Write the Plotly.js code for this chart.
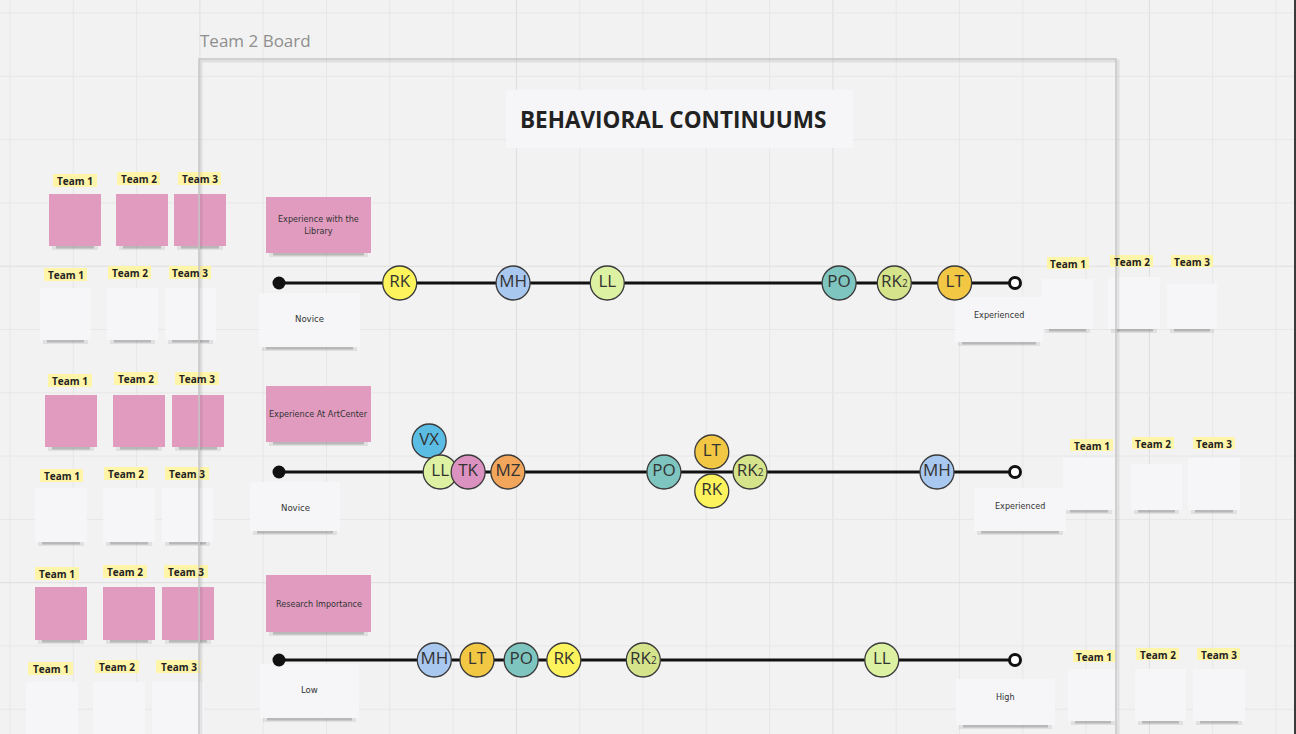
<!DOCTYPE html>
<html><head><meta charset="utf-8">
<script src="https://cdn.plot.ly/plotly-3.0.1.min.js"></script>
<style>html,body{margin:0;padding:0;background:#f2f2f2;overflow:hidden}#chart{width:1296px;height:734px}</style>
</head><body><div id="chart"></div>
<script>
// ---------------- DATA ----------------
const boardTitle = 'Team 2 Board';
const chartTitle = 'BEHAVIORAL CONTINUUMS';
const continuumTitles = ['Experience with the<br>Library', 'Experience At ArtCenter', 'Research Importance'];
const lowLabels = ['Novice', 'Novice', 'Low'];
const highLabels = ['Experienced', 'Experienced', 'High'];
const teamNames = ['Team 1', 'Team 2', 'Team 3'];

// Row 1: Experience with the Library (0 = Novice, 100 = Experienced)
const libraryPeople = ['RK', 'MH', 'LL', 'PO', 'RK2', 'LT'];
const libraryScores = [16.4, 31.8, 44.6, 76.1, 83.6, 91.8];
const libraryLane   = [0, 0, 0, 0, 0, 0];

// Row 2: Experience At ArtCenter
const artCenterPeople = ['VX', 'LL', 'TK', 'MZ', 'PO', 'LT', 'RK', 'RK2', 'MH'];
const artCenterScores = [20.4, 21.9, 25.7, 31.1, 52.3, 58.8, 58.8, 64.0, 89.4];
const artCenterLane   = [31, 0, 0, 0, 0, 20, -19, 0, 0];

// Row 3: Research Importance (0 = Low, 100 = High)
const researchPeople = ['MH', 'LT', 'PO', 'RK', 'RK2', 'LL'];
const researchScores = [21.1, 26.9, 32.9, 38.7, 49.5, 81.9];
const researchLane   = [0, 0, 0, 0, 0, 0];

// ---------------- STYLE / LAYOUT GEOMETRY ----------------
const W = 1296, H = 734;
const personColor = {RK:'#fdf35c', MH:'#a9c8ef', LL:'#dcf2a2', PO:'#7dc5be', RK2:'#d5e38a',
                     LT:'#f2c744', VX:'#5bbce4', TK:'#dc92c0', MZ:'#f2a65c'};
const personText = p => p === 'RK2' ? 'RK<span style="font-size:10px">2</span>' : p;
const lineLeft = 279, lineRight = 1015;
const rowCenters = [283, 472, 660];
const PINK = '#e09bbf', WHITE = '#f6f6f8', TAG = '#fff5a8';
const HAND = '"DejaVu Sans Condensed", "Liberation Sans Narrow", "Arial Narrow", sans-serif';

const shapes = [];
const annotations = [];

// grid (whiteboard background)
const g = 63.3;
for (let k = 0; k < 22; k++) {
  const x = 10 + g * k;
  shapes.push({type:'line', xref:'x', yref:'y', layer:'below', x0:x, x1:x, y0:0, y1:H,
    line:{color: (k % 5 === 3) ? '#dedede' : '#e7e7e7', width:1}});
}
for (let k = 0; k < 12; k++) {
  const y = 13 + g * k;
  shapes.push({type:'line', xref:'x', yref:'y', layer:'below', x0:0, x1:W, y0:y, y1:y,
    line:{color: (k % 5 === 4) ? '#dedede' : '#e7e7e7', width:1}});
}

function note(x0, y0, x1, y1, color) {
  shapes.push({type:'rect', xref:'x', yref:'y', layer:'below', x0:x0 + 3, x1:x1 - 3, y0:y1 - 2, y1:y1 + 4,
    fillcolor:'rgba(0,0,0,0.07)', line:{width:0}});
  shapes.push({type:'rect', xref:'x', yref:'y', layer:'below', x0:x0 + 7, x1:x1 - 7, y0:y1 - 2, y1:y1 + 2.5,
    fillcolor:'rgba(40,40,40,0.22)', line:{width:0}});
  shapes.push({type:'rect', xref:'x', yref:'y', layer:'below', x0:x0, x1:x1, y0:y0, y1:y1,
    fillcolor:color, line:{width:0}});
}
function tag(x0, y0, x1, y1, text) {
  shapes.push({type:'rect', xref:'x', yref:'y', layer:'below', x0:x0, x1:x1, y0:y0, y1:y1,
    fillcolor:TAG, line:{width:0}});
  annotations.push({xref:'x', yref:'y', x:(x0 + x1) / 2, y:(y0 + y1) / 2 + 0.5, text:'<b>' + text + '</b>',
    showarrow:false, font:{family:'"Open Sans", sans-serif', size:10, color:'#222'}});
}
function label(x, y, text, size) {
  annotations.push({xref:'x', yref:'y', x:x, y:y, text:text, showarrow:false,
    font:{family:HAND, size:size || 10, color:'#333'}});
}

// Left team blocks: [tagRow1, pinkNotes, tagRow2, whiteNotes]
const leftBlocks = [
  {tagsA:[[53,174,97,187],[117,172,160,185],[178,172,221,185]],
   pinks:[[49,194,101,246],[116,194,168,246],[174,194,226,246]],
   tagsB:[[44,268,87,281],[108,266,151,279],[169,266,211,279]],
   whites:[[40,288,91,340],[107,288,158,340],[165,288,216,340]]},
  {tagsA:[[48,374,92,387],[114,372,158,385],[175,372,219,385]],
   pinks:[[45,395,97,447],[113,395,165,447],[172,395,224,447]],
   tagsB:[[40,469,83,482],[104,467,148,480],[165,467,209,480]],
   whites:[[35,488,87,542],[103,488,155,542],[162,488,213,542]]},
  {tagsA:[[35,567,79,580],[103,565,147,578],[164,565,208,578]],
   pinks:[[35,587,87,640],[103,587,155,640],[162,587,214,640]],
   tagsB:[[28,662,73,675],[95,660,139,673],[156,660,201,673]],
   whites:[[26,682,78,745],[93,682,145,745],[152,682,204,745]]}
];
const rightBlocks = [
  {tags:[[1047,257,1089,269],[1110,255,1153,267],[1171,255,1213,267]],
   whites:[[1042,279,1093,329],[1108,277,1160,329],[1167,284,1217,329]]},
  {tags:[[1070,439,1113,451],[1132,437,1174,449],[1193,437,1235,449]],
   whites:[[1063,458,1115,510],[1131,464,1182,510],[1188,458,1240,510]]},
  {tags:[[1073,650,1115,662],[1136,648,1179,660],[1197,648,1240,660]],
   whites:[[1068,669,1118,721],[1135,669,1186,721],[1193,669,1245,721]]}
];
const categoryNotes = [[266,197,371,253],[266,386,371,442],[266,575,371,632]];
const lowNotes  = [[259,293,360,347],[250,482,340,531],[260,664,359,718]];
const highNotes = [[955,297,1043,342],[974,488,1066,531],[956,679,1055,725]];

leftBlocks.forEach(b => {
  b.pinks.forEach(r => note(...r, PINK));
  b.whites.forEach(r => note(...r, WHITE));
  b.tagsA.forEach((r, i) => tag(...r, teamNames[i]));
  b.tagsB.forEach((r, i) => tag(...r, teamNames[i]));
});
rightBlocks.forEach(b => {
  b.whites.forEach(r => note(...r, WHITE));
  b.tags.forEach((r, i) => tag(...r, teamNames[i]));
});
categoryNotes.forEach((r, i) => {
  note(...r, PINK);
  label((r[0] + r[2]) / 2, (r[1] + r[3]) / 2, continuumTitles[i], 9);
});
lowNotes.forEach((r, i) => {
  note(...r, WHITE);
  label((r[0] + r[2]) / 2, r[1] + 25, lowLabels[i], 9.5);
});
highNotes.forEach((r, i) => {
  note(...r, WHITE);
  label((r[0] + r[2]) / 2, r[1] + 18, highLabels[i], 9);
});

// board frame
shapes.push({type:'rect', xref:'x', yref:'y', layer:'below', x0:201, x1:1118, y0:61, y1:800,
  fillcolor:'rgba(0,0,0,0)', line:{color:'rgba(0,0,0,0.07)', width:3}});
shapes.push({type:'rect', xref:'x', yref:'y', layer:'below', x0:199, x1:1116, y0:59, y1:800,
  fillcolor:'rgba(0,0,0,0)', line:{color:'#c6c6c6', width:1.5}});
// title box
shapes.push({type:'rect', xref:'x', yref:'y', layer:'below', x0:506, x1:853, y0:90, y1:148,
  fillcolor:'#f6f6f8', line:{width:0}});
// window edge
shapes.push({type:'line', xref:'x', yref:'y', layer:'below', x0:1295, x1:1295, y0:0, y1:H,
  line:{color:'#3a3a3a', width:2}});

annotations.push({xref:'x', yref:'y', x:673, y:119, text:'<b>' + chartTitle + '</b>', showarrow:false,
  font:{family:'"Open Sans", sans-serif', size:22.5, color:'#222'}});
annotations.push({xref:'x', yref:'y', x:198, y:40, xanchor:'left', text:boardTitle, showarrow:false,
  font:{family:'"Open Sans", sans-serif', size:17, color:'#8e8e8e'}});

// ---------------- TRACES ----------------
const rows = [
  {people:libraryPeople, scores:libraryScores, lane:libraryLane},
  {people:artCenterPeople, scores:artCenterScores, lane:artCenterLane},
  {people:researchPeople, scores:researchScores, lane:researchLane}
];
const traces = [];
const layout = {
  width:W, height:H, margin:{l:0, r:0, t:0, b:0, pad:0},
  paper_bgcolor:'#f2f2f2', plot_bgcolor:'rgba(0,0,0,0)', showlegend:false,
  xaxis:{domain:[0, 1], range:[0, W], visible:false, fixedrange:true},
  yaxis:{domain:[0, 1], range:[H, 0], visible:false, fixedrange:true},
  shapes:shapes, annotations:annotations
};
traces.push({x:[0], y:[0], xaxis:'x', yaxis:'y', mode:'markers', marker:{size:1, opacity:0}, hoverinfo:'skip'});

rows.forEach((row, r) => {
  const n = r + 2, xa = 'x' + n, ya = 'y' + n;
  const c = rowCenters[r];
  layout['xaxis' + n] = {domain:[lineLeft / W, lineRight / W], range:[0, 100], visible:false, anchor:ya, fixedrange:true};
  layout['yaxis' + n] = {domain:[1 - (c + 60) / H, 1 - (c - 60) / H], range:[-60, 60], visible:false, anchor:xa, fixedrange:true};
  traces.push({x:[0, 100], y:[0, 0], xaxis:xa, yaxis:ya, mode:'lines', line:{color:'#111', width:3}, cliponaxis:false, hoverinfo:'skip'});
  traces.push({x:[0], y:[0], xaxis:xa, yaxis:ya, mode:'markers', marker:{size:13, color:'#111'}, cliponaxis:false, hoverinfo:'skip'});
  traces.push({x:[100], y:[0], xaxis:xa, yaxis:ya, mode:'markers', marker:{size:11, color:'#fff', line:{color:'#111', width:3}}, cliponaxis:false, hoverinfo:'skip'});
  traces.push({x:row.scores, y:row.lane, xaxis:xa, yaxis:ya, mode:'markers+text', cliponaxis:false,
    text:row.people.map(personText), textposition:'middle center',
    textfont:{family:'"Open Sans", sans-serif', size:17, color:'#333'},
    marker:{size:34, color:row.people.map(p => personColor[p]), line:{color:'#3a3a3a', width:1.3}, opacity:1},
    hoverinfo:'skip'});
});

Plotly.newPlot('chart', traces, layout, {staticPlot:true, displayModeBar:false});
</script>
</body></html>
